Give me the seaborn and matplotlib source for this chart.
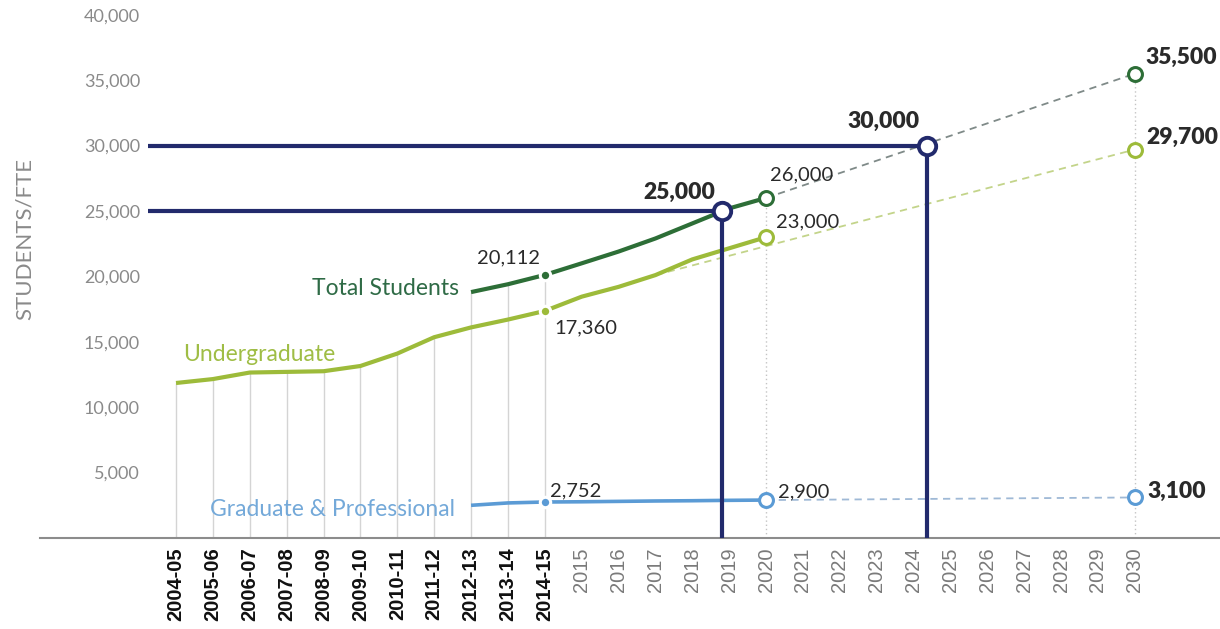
import matplotlib
matplotlib.use("Agg")
import matplotlib.pyplot as plt
import numpy as np
import pandas as pd
import seaborn as sns

# ---------------- data ----------------
categories = ["2004-05", "2005-06", "2006-07", "2007-08", "2008-09", "2009-10",
              "2010-11", "2011-12", "2012-13", "2013-14", "2014-15",
              "2015", "2016", "2017", "2018", "2019", "2020", "2021", "2022",
              "2023", "2024", "2025", "2026", "2027", "2028", "2029", "2030"]

undergrad_years = categories[0:17]
undergrad = [11850, 12150, 12650, 12700, 12750, 13150, 14100, 15350, 16100,
             16700, 17360, 18450, 19200, 20100, 21300, 22150, 23000]

total_years = categories[8:17]
total = [18800, 19400, 20112, 21000, 21900, 22900, 24050, 25200, 26000]

grad_years = categories[8:17]
grad = [2500, 2680, 2752, 2770, 2800, 2830, 2850, 2880, 2900]

total_proj_years = ["2020", "2030"]
total_proj = [26000, 35500]
ug_proj_years = ["2017", "2030"]
ug_proj = [20100, 29700]
grad_proj_years = ["2020", "2030"]
grad_proj = [2900, 3100]

milestones = [25000, 30000]
milestone_pos = [14.8, 20.35]      # fractional category position where the total line meets the goal

y_ticks = [5000, 10000, 15000, 20000, 25000, 30000, 35000, 40000]

# ---------------- style ----------------
sns.set_style("white")
plt.rcParams["font.family"] = ["Lato", "DejaVu Sans"]

C_TOTAL = "#2d6e37"
C_UG = "#9dbb3a"
C_GRAD = "#5b9bd5"
C_NAVY = "#222a6c"
C_TOTAL_D = "#7f8a88"
C_UG_D = "#c3d48a"
C_GRAD_D = "#9fb9d6"
C_GRID = "#d4d4d4"
C_TXT = "#2a2a2a"

idx = {c: i for i, c in enumerate(categories)}

def frame(years, vals, name):
    return pd.DataFrame({"x": [idx[y] for y in years], "value": vals, "series": name})

df_ug = frame(undergrad_years, undergrad, "Undergraduate")
df_tot = frame(total_years, total, "Total Students")
df_grad = frame(grad_years, grad, "Graduate & Professional")
df_tot_p = frame(total_proj_years, total_proj, "Total proj")
df_ug_p = frame(ug_proj_years, ug_proj, "UG proj")
df_grad_p = frame(grad_proj_years, grad_proj, "Grad proj")

W, H = 1220, 629
fig = plt.figure(figsize=(W / 100, H / 100), dpi=100)
ax_left, ax_right, ax_bottom, ax_top = 40, 1220, 538, 5
ax = fig.add_axes([ax_left / W, (H - ax_bottom) / H,
                   (ax_right - ax_left) / W, (ax_bottom - ax_top) / H])

px_per_cat = 36.88
ax.set_xlim((ax_left - 176) / px_per_cat, (ax_right - 176) / px_per_cat)
ax.set_ylim(0, (ax_bottom - ax_top) / (65.4 / 5000))

# ---------------- vertical guide lines ----------------
top_vals = {}
for d in (df_ug, df_tot):
    for x, v in zip(d["x"], d["value"]):
        top_vals[x] = max(top_vals.get(x, 0), v)
hist_x = [idx[c] for c in categories[0:11]]
ax.vlines(hist_x, 0, [top_vals[x] for x in hist_x], color=C_GRID, lw=1.0, zorder=1)
proj_x = [idx["2020"], idx["2030"]]
proj_top = [top_vals[idx["2020"]], total_proj[-1]]
ax.vlines(proj_x, 0, proj_top, color="#c4c4c4", lw=1.0, linestyles=(0, (1, 2)), zorder=1)

# ---------------- projections (dashed) ----------------
for d, c in ((df_tot_p, C_TOTAL_D), (df_ug_p, C_UG_D), (df_grad_p, C_GRAD_D)):
    sns.lineplot(data=d, x="x", y="value", ax=ax, color=c, lw=1.3,
                 dashes=False, linestyle=(0, (4, 3)), zorder=2, legend=False)

# ---------------- solid series ----------------
for d, c, lw in ((df_ug, C_UG, 3.0), (df_tot, C_TOTAL, 3.0), (df_grad, C_GRAD, 2.6)):
    sns.lineplot(data=d, x="x", y="value", ax=ax, color=c, lw=lw,
                 zorder=3, legend=False, solid_capstyle="butt")

# small dots at 2014-15
k = idx["2014-15"]
for vals, years, c in ((undergrad, undergrad_years, C_UG), (total, total_years, C_TOTAL),
                       (grad, grad_years, C_GRAD)):
    v = vals[years.index("2014-15")]
    ax.plot([k], [v], "o", ms=7.5, mfc=c, mec="white", mew=2.2, zorder=4)

# open circles 2020 and 2030
for vals, years, c in ((undergrad, undergrad_years, C_UG), (total, total_years, C_TOTAL),
                       (grad, grad_years, C_GRAD)):
    v = vals[years.index("2020")]
    ax.plot([idx["2020"]], [v], "o", ms=10, mfc="white", mec=c, mew=2.2, zorder=6)
for vals, c in ((total_proj, C_TOTAL), (ug_proj, C_UG), (grad_proj, C_GRAD)):
    ax.plot([idx["2030"]], [vals[-1]], "o", ms=10, mfc="white", mec=c, mew=2.2, zorder=6)

# ---------------- milestone lines ----------------
left_start = (148 - 176) / px_per_cat
ax.hlines(milestones, left_start, milestone_pos, color=C_NAVY, lw=3.0, zorder=7)
ax.vlines(milestone_pos, 0, milestones, color=C_NAVY, lw=3.0, zorder=7)
ax.plot(milestone_pos, milestones, "o", ms=12.5, mfc="white", mec=C_NAVY, mew=2.8, zorder=8)

# ---------------- annotations ----------------
def ann(text, x, y, dx, dy, ha="left", bold=False, size=14.5, color=C_TXT):
    ax.annotate(text, xy=(x, y), xytext=(dx, dy), textcoords="offset pixels",
                ha=ha, va="center", fontsize=size, color=color,
                fontweight="heavy" if bold else "normal", zorder=9)

fmt = lambda v: f"{v:,}"
ann(fmt(total[total_years.index("2014-15")]), k, total[total_years.index("2014-15")], -5, 17, ha="right")
ann(fmt(undergrad[undergrad_years.index("2014-15")]), k, undergrad[undergrad_years.index("2014-15")], 10, -17)
ann(fmt(grad[grad_years.index("2014-15")]), k, grad[grad_years.index("2014-15")], 5, 11)
k20 = idx["2020"]
ann(fmt(total[-1]), k20, total[-1], 4, 23)
ann(fmt(undergrad[-1]), k20, undergrad[-1], 10, 15)
ann(fmt(grad[-1]), k20, grad[-1], 12, 8)
k30 = idx["2030"]
ann(fmt(total_proj[-1]), k30, total_proj[-1], 11, 16, bold=True, size=16.5)
ann(fmt(ug_proj[-1]), k30, ug_proj[-1], 11, 12, bold=True, size=16.5)
ann(fmt(grad_proj[-1]), k30, grad_proj[-1], 13, 6, bold=True, size=16.5)
for mx, mv, dy in zip(milestone_pos, milestones, (19, 24)):
    ann(fmt(mv), mx, mv, -7, dy, ha="right", bold=True, size=16.5)

# series name labels
ann("Total Students", idx[total_years[0]], total[0], -12, 4, ha="right", size=16.5, color="#2f6b46")
ann("Undergraduate", idx[undergrad_years[0]], undergrad[0], 7, 29, size=16.5, color="#9fbd45")
ann("Graduate & Professional", idx[grad_years[0]], grad[0], -16, -4, ha="right", size=16.5, color="#74a9d9")

# ---------------- axes cosmetics ----------------
ax.set_yticks(y_ticks)
ax.set_yticklabels([f"{v:,}" for v in y_ticks])
ax.tick_params(axis="y", length=0, pad=-72, labelsize=13, labelcolor="#8a8a8a")
ax.set_xticks(range(len(categories)))
ax.set_xticklabels(categories, rotation=90, fontfamily="Liberation Sans", fontsize=14.5)
ax.tick_params(axis="x", length=0, pad=7)
for i, lab in enumerate(ax.get_xticklabels()):
    if i <= idx["2014-15"]:
        lab.set_fontweight("bold")
        lab.set_color("#111111")
    else:
        lab.set_color("#7a7a7a")

ax.set_xlabel("")
ax.set_ylabel("STUDENTS/FTE", fontsize=16, color="#8a8a8a", fontweight="normal")
ax.yaxis.set_label_coords(-0.004, (ax_bottom - 239) / (ax_bottom - ax_top))

for s in ("top", "right", "left"):
    ax.spines[s].set_visible(False)
ax.spines["bottom"].set_color("#8c8c8c")
ax.spines["bottom"].set_linewidth(1.5)

fig.savefig("out.png", dpi=100, facecolor="white")
